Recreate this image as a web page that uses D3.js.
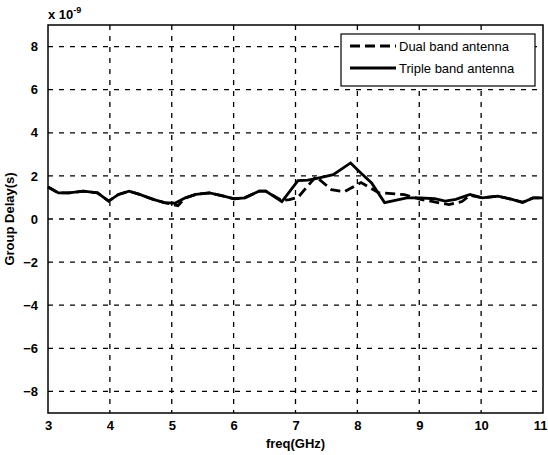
<!DOCTYPE html>
<html>
<head>
<meta charset="utf-8">
<script src="https://cdn.jsdelivr.net/npm/d3@7"></script>
<style>
body { margin: 0; background: #fff; }
text { font-family: "Liberation Sans", Arial, sans-serif; }
</style>
</head>
<body>
<div id="chart"></div>
<script>
// Group delay vs frequency, values in units of 1e-9 s

var xTicks = [3, 4, 5, 6, 7, 8, 9, 10, 11];
var yTicks = [-8, -6, -4, -2, 0, 2, 4, 6, 8];

var tripleFreq = [3.00, 3.17, 3.34, 3.57, 3.80, 3.98, 4.14, 4.31, 4.48, 4.70, 4.88, 5.05, 5.22, 5.39, 5.61, 5.84, 6.01, 6.18, 6.41, 6.52, 6.78, 7.04, 7.20, 7.33, 7.61, 7.89, 8.06, 8.23, 8.44, 8.63, 8.80, 9.01, 9.25, 9.42, 9.59, 9.82, 10.02, 10.27, 10.50, 10.67, 10.84, 11.00];
var tripleDelay = [1.48, 1.21, 1.21, 1.29, 1.21, 0.83, 1.14, 1.29, 1.14, 0.91, 0.76, 0.73, 0.98, 1.14, 1.21, 1.06, 0.94, 0.98, 1.29, 1.29, 0.81, 1.78, 1.80, 1.87, 2.06, 2.60, 2.12, 1.67, 0.76, 0.88, 0.98, 0.98, 0.94, 0.83, 0.91, 1.14, 0.98, 1.06, 0.91, 0.76, 0.98, 0.98];

var dualFreq = [3.00, 3.17, 3.34, 3.57, 3.80, 3.98, 4.14, 4.31, 4.48, 4.70, 4.88, 5.10, 5.22, 5.39, 5.61, 5.84, 6.01, 6.18, 6.41, 6.52, 6.78, 6.90, 7.04, 7.33, 7.58, 7.79, 8.06, 8.34, 8.76, 9.04, 9.48, 9.69, 9.82, 10.02, 10.27, 10.50, 10.67, 10.84, 11.00];
var dualDelay = [1.48, 1.21, 1.21, 1.29, 1.21, 0.83, 1.14, 1.29, 1.14, 0.91, 0.76, 0.62, 0.98, 1.14, 1.21, 1.06, 0.94, 0.98, 1.29, 1.29, 0.85, 0.90, 1.00, 1.97, 1.36, 1.27, 1.69, 1.22, 1.13, 0.90, 0.67, 0.81, 1.10, 0.98, 1.06, 0.91, 0.78, 0.98, 0.98];

var legendNames = ["Dual band antenna", "Triple band antenna"];

var WIDTH = 548, HEIGHT = 455;
var mLeft = 48, mRight = 543, mTop = 25, mBottom = 413;

var svg = d3.select("#chart").append("svg")
    .attr("width", WIDTH)
    .attr("height", HEIGHT);

var x = d3.scaleLinear().domain([3, 11]).range([mLeft, mRight]);
var y = d3.scaleLinear().domain([-9, 9]).range([mBottom, mTop]);

// grid
svg.append("g").selectAll("line")
    .data(xTicks.slice(1, -1))
    .enter().append("line")
    .attr("x1", function(d) { return x(d); })
    .attr("x2", function(d) { return x(d); })
    .attr("y1", mTop).attr("y2", mBottom)
    .style("stroke", "#000").style("stroke-width", 1.3)
    .style("stroke-dasharray", "5,6");

svg.append("g").selectAll("line")
    .data(yTicks)
    .enter().append("line")
    .attr("y1", function(d) { return y(d); })
    .attr("y2", function(d) { return y(d); })
    .attr("x1", mLeft).attr("x2", mRight)
    .style("stroke", "#000").style("stroke-width", 1.3)
    .style("stroke-dasharray", "5,6");

// axes
var xAxis = svg.append("g")
    .attr("transform", "translate(0," + mBottom + ")")
    .call(d3.axisBottom(x).tickValues(xTicks).tickSize(0).tickPadding(8).tickFormat(d3.format("d")));
var yAxis = svg.append("g")
    .attr("transform", "translate(" + mLeft + ",0)")
    .call(d3.axisLeft(y).tickValues(yTicks).tickSize(0).tickPadding(10).tickFormat(d3.format("d")));
[xAxis, yAxis].forEach(function(a) {
    a.select(".domain").remove();
    a.selectAll("text").style("font-size", "13px").style("font-weight", "bold").style("fill", "#000");
});
// last x label sits right at the edge, nudge it in a little
xAxis.selectAll(".tick").filter(function(d) { return d == 11; })
    .select("text").attr("dx", "-3");

// box
svg.append("rect")
    .attr("x", mLeft).attr("y", mTop)
    .attr("width", mRight - mLeft).attr("height", mBottom - mTop)
    .style("fill", "none").style("stroke", "#000").style("stroke-width", 1.5);

// lines
var line = d3.line()
    .x(function(d) { return x(d[0]); })
    .y(function(d) { return y(d[1]); });

svg.append("path")
    .datum(d3.zip(dualFreq, dualDelay))
    .attr("d", line)
    .style("fill", "none").style("stroke", "#000").style("stroke-width", 2.8)
    .style("stroke-dasharray", "10,5");

svg.append("path")
    .datum(d3.zip(tripleFreq, tripleDelay))
    .attr("d", line)
    .style("fill", "none").style("stroke", "#000").style("stroke-width", 2.8);

// legend
var lg = svg.append("g");
lg.append("rect")
    .attr("x", 341).attr("y", 34).attr("width", 194).attr("height", 52)
    .style("fill", "#fff").style("stroke", "#000").style("stroke-width", 1.2);
lg.selectAll("line")
    .data(legendNames)
    .enter().append("line")
    .attr("x1", 350).attr("x2", 396)
    .attr("y1", function(d, i) { return 46 + i * 22; })
    .attr("y2", function(d, i) { return 46 + i * 22; })
    .style("stroke", "#000").style("stroke-width", 2.8)
    .style("stroke-dasharray", function(d, i) { return i == 0 ? "10,5" : null; });
lg.selectAll("text")
    .data(legendNames)
    .enter().append("text")
    .attr("x", 399)
    .attr("y", function(d, i) { return 51 + i * 22; })
    .style("font-size", "13px")
    .text(function(d) { return d; });

// labels
svg.append("text")
    .attr("x", (mLeft + mRight) / 2).attr("y", 448)
    .attr("text-anchor", "middle")
    .style("font-size", "13px").style("font-weight", "bold")
    .text("freq(GHz)");

svg.append("text")
    .attr("transform", "translate(14," + ((mTop + mBottom) / 2) + ") rotate(-90)")
    .attr("text-anchor", "middle")
    .style("font-size", "13px").style("font-weight", "bold")
    .text("Group Delay(s)");

var exp = svg.append("text")
    .attr("x", 48).attr("y", 19)
    .style("font-size", "13px").style("font-weight", "bold");
exp.append("tspan").text("x 10");
exp.append("tspan").attr("dy", -6).style("font-size", "9px").text("-9");
</script>
</body>
</html>
